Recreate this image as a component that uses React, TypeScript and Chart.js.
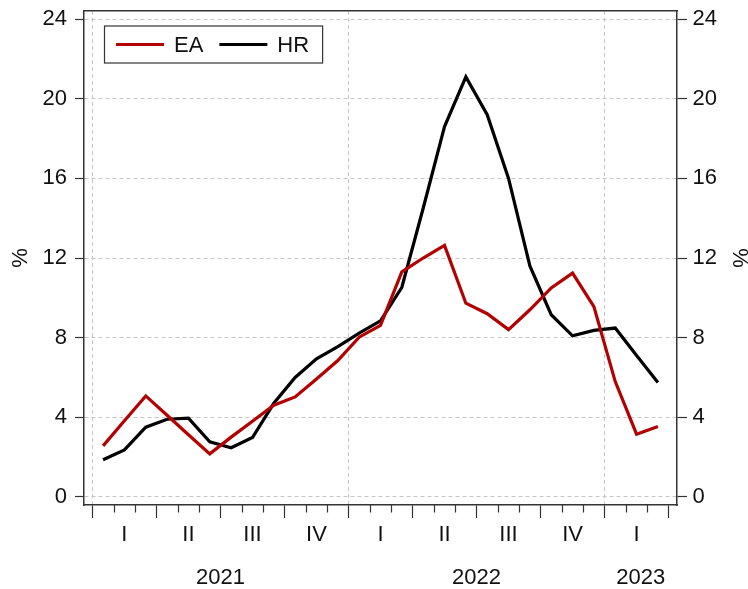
import React, { useEffect, useRef } from 'react';
import { Chart, registerables } from 'chart.js';

Chart.register(...registerables);

const months = [
  '2021-01', '2021-02', '2021-03', '2021-04', '2021-05', '2021-06',
  '2021-07', '2021-08', '2021-09', '2021-10', '2021-11', '2021-12',
  '2022-01', '2022-02', '2022-03', '2022-04', '2022-05', '2022-06',
  '2022-07', '2022-08', '2022-09', '2022-10', '2022-11', '2022-12',
  '2023-01', '2023-02', '2023-03',
];

const eaValues = [
  2.56, 3.82, 5.07, 4.1, 3.12, 2.16, 3.0, 3.8, 4.6, 5.02, 5.92, 6.85,
  8.02, 8.62, 11.3, 12.0, 12.63, 9.73, 9.2, 8.4, 9.4, 10.5, 11.24, 9.56,
  5.79, 3.15, 3.53,
];

const hrValues = [
  1.86, 2.36, 3.5, 3.9, 3.95, 2.76, 2.47, 2.98, 4.7, 6.0, 6.93, 7.55,
  8.23, 8.84, 10.53, 14.5, 18.6, 21.1, 19.2, 16.0, 11.6, 9.15, 8.09, 8.36,
  8.48, 7.1, 5.74,
];

const seriesNames = ['EA', 'HR'];
const seriesColors = ['#b30000', '#000000'];

const yTicks = [0, 4, 8, 12, 16, 20, 24];
const quarterLabels = ['I', 'II', 'III', 'IV', 'I', 'II', 'III', 'IV', 'I'];
const yearLabels = ['2021', '2022', '2023'];

const FONT = "'Liberation Sans', Arial, sans-serif";
const TEXT = '#111111';
const FRAME = '#333333';
const GRID = '#c6c6c6';

const X_MIN = -0.394;
const X_MAX = months.length + 0.394;
const Y_MIN = -0.41;
const Y_MAX = 24.41;

const quarterPos = quarterLabels.map((_, q) => 3 * q + 1.5);
const yearPos = yearLabels.map((yr) => {
  const idx = months.map((m, i) => (m.startsWith(yr) ? i : -1)).filter((i) => i >= 0);
  const start = idx[0];
  const end = Math.min(idx[idx.length - 1] + 1, X_MAX);
  return (start + Math.min(start + 12, end === idx[idx.length - 1] + 1 && idx.length === 12 ? end : X_MAX)) / 2;
});

const xTickValues: number[] = [];
for (let v = 0; v <= months.length; v += 0.5) xTickValues.push(v);
yearPos.forEach((p) => {
  if (!xTickValues.some((v) => Math.abs(v - p) < 1e-6)) xTickValues.push(p);
});
xTickValues.sort((a, b) => a - b);

const near = (a: number, b: number) => Math.abs(a - b) < 1e-6;

const minorTicksPlugin = {
  id: 'minorTicks',
  afterDraw(chart: any) {
    const xs = chart.scales.x;
    const ctx = chart.ctx;
    const bottom = chart.chartArea.bottom;
    ctx.save();
    ctx.strokeStyle = FRAME;
    ctx.lineWidth = 1.2;
    for (let m = 0; m <= months.length; m++) {
      if (m % 3 === 0) continue;
      const px = Math.round(xs.getPixelForValue(m)) + 0.5;
      ctx.beginPath();
      ctx.moveTo(px, bottom);
      ctx.lineTo(px, bottom + 7.5);
      ctx.stroke();
    }
    ctx.restore();
  },
};

const boxLegendPlugin = {
  id: 'boxLegend',
  afterDraw(chart: any) {
    const ctx = chart.ctx;
    const ca = chart.chartArea;
    const left = ca.left + 20.5;
    const top = ca.top + 15;
    const h = 37;
    const sample = 48;
    const gapText = 10;
    const gapItem = 16;
    const padL = 11.5;
    const padR = 13.5;
    ctx.save();
    ctx.font = `22px ${FONT}`;
    const datasets = chart.data.datasets;
    let w = padL + padR;
    datasets.forEach((ds: any, i: number) => {
      w += sample + gapText + ctx.measureText(ds.label).width;
      if (i < datasets.length - 1) w += gapItem;
    });
    ctx.fillStyle = '#ffffff';
    ctx.fillRect(left, top, w, h);
    ctx.strokeStyle = FRAME;
    ctx.lineWidth = 1.2;
    ctx.strokeRect(left, top, w, h);
    let x = left + padL;
    const cy = top + h / 2;
    datasets.forEach((ds: any) => {
      ctx.strokeStyle = ds.borderColor;
      ctx.lineWidth = 3;
      ctx.beginPath();
      ctx.moveTo(x, cy);
      ctx.lineTo(x + sample, cy);
      ctx.stroke();
      x += sample + gapText;
      ctx.fillStyle = TEXT;
      ctx.textBaseline = 'middle';
      ctx.textAlign = 'left';
      ctx.fillText(ds.label, x, cy + 1);
      x += ctx.measureText(ds.label).width + gapItem;
    });
    ctx.restore();
  },
};

export default function App() {
  const canvasRef = useRef<HTMLCanvasElement | null>(null);

  useEffect(() => {
    const canvas = canvasRef.current;
    if (!canvas) return;
    const seriesValues = [eaValues, hrValues];
    const chart = new Chart(canvas, {
      type: 'line',
      data: {
        datasets: seriesNames.map((name, s) => ({
          label: name,
          data: seriesValues[s].map((v, i) => ({ x: i + 0.5, y: v })),
          borderColor: seriesColors[s],
          backgroundColor: seriesColors[s],
          borderWidth: 3.2,
          pointRadius: 0,
          tension: 0,
          fill: false,
          yAxisID: 'y',
          xAxisID: 'x',
        })),
      },
      options: {
        responsive: false,
        animation: false,
        layout: { padding: { top: 11, left: 0, right: 0, bottom: 0 } },
        plugins: {
          legend: { display: false },
          tooltip: { enabled: false },
        },
        scales: {
          x: {
            type: 'linear',
            position: 'bottom',
            min: X_MIN,
            max: X_MAX,
            afterBuildTicks: (s: any) => {
              s.ticks = xTickValues.map((v) => ({ value: v }));
            },
            afterFit: (s: any) => {
              s.height = 84;
              s.paddingLeft = 0;
              s.paddingRight = 0;
            },
            ticks: {
              autoSkip: false,
              maxRotation: 0,
              minRotation: 0,
              padding: 6,
              color: TEXT,
              font: { family: FONT, size: 22, lineHeight: 0.977 },
              callback: (value: any) => {
                const v = Number(value);
                const qi = quarterPos.findIndex((p) => near(p, v));
                const yi = yearPos.findIndex((p) => near(p, v));
                if (qi >= 0) return quarterLabels[qi];
                if (yi >= 0) return ['', '', yearLabels[yi]];
                return '';
              },
            },
            grid: {
              drawOnChartArea: true,
              lineWidth: 1,
              color: (c: any) => {
                const v = c.tick ? c.tick.value : NaN;
                return near(v, 0) || near(v, 12) || near(v, 24) ? GRID : 'rgba(0,0,0,0)';
              },
              tickColor: (c: any) => {
                const v = c.tick ? c.tick.value : NaN;
                return Number.isInteger(v) && v % 3 === 0 ? FRAME : 'rgba(0,0,0,0)';
              },
              tickWidth: 1.2,
              tickLength: 13,
            },
            border: { display: true, color: FRAME, width: 1.5, dash: [4, 3] },
          },
          xTop: {
            type: 'linear',
            position: 'top',
            display: true,
            min: X_MIN,
            max: X_MAX,
            afterFit: (s: any) => {
              s.height = 0;
              s.paddingLeft = 0;
              s.paddingRight = 0;
            },
            ticks: { display: false },
            grid: { display: true, drawOnChartArea: false, drawTicks: false, color: 'rgba(0,0,0,0)' },
            border: { display: true, color: FRAME, width: 1.5 },
          },
          y: {
            type: 'linear',
            position: 'left',
            min: Y_MIN,
            max: Y_MAX,
            afterBuildTicks: (s: any) => {
              s.ticks = yTicks.map((v) => ({ value: v }));
            },
            afterFit: (s: any) => {
              s.width = 84;
              s.paddingTop = 0;
              s.paddingBottom = 0;
            },
            ticks: { padding: 8, color: TEXT, font: { family: FONT, size: 22 } },
            grid: { color: GRID, lineWidth: 1, tickColor: FRAME, tickWidth: 1.2, tickLength: 9 },
            border: { display: true, color: FRAME, width: 1.5, dash: [4, 3] },
            title: {
              display: true,
              text: '%',
              color: TEXT,
              font: { family: FONT, size: 22, lineHeight: 1.2 },
              padding: { top: 8, bottom: 0 },
            },
          },
          y2: {
            type: 'linear',
            position: 'right',
            min: Y_MIN,
            max: Y_MAX,
            afterBuildTicks: (s: any) => {
              s.ticks = yTicks.map((v) => ({ value: v }));
            },
            afterFit: (s: any) => {
              s.width = 71;
              s.paddingTop = 0;
              s.paddingBottom = 0;
            },
            ticks: { padding: 5.5, color: TEXT, font: { family: FONT, size: 22 } },
            grid: { drawOnChartArea: false, color: GRID, tickColor: FRAME, tickWidth: 1.2, tickLength: 10 },
            border: { display: true, color: FRAME, width: 1.5 },
            title: {
              display: true,
              text: '%',
              color: TEXT,
              font: { family: FONT, size: 22, lineHeight: 1.2 },
              padding: { top: -4, bottom: 0 },
            },
          },
        },
      } as any,
      plugins: [minorTicksPlugin, boxLegendPlugin],
    });
    return () => chart.destroy();
  }, []);

  return (
    <div style={{ position: 'fixed', left: 0, top: 0, width: 748, height: 589, background: '#ffffff' }}>
      <canvas ref={canvasRef} width={748} height={589} style={{ display: 'block' }} />
    </div>
  );
}
